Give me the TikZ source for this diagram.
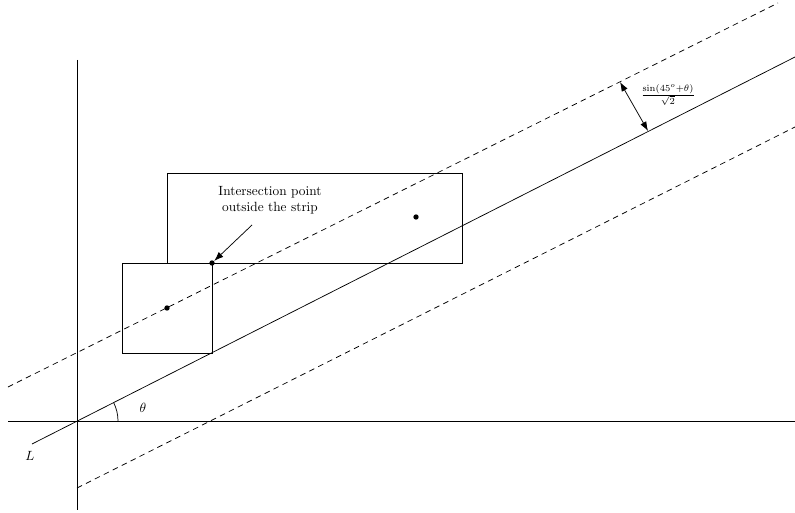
\documentclass[tikz,border=0pt]{standalone}
\usetikzlibrary{arrows.meta}
\begin{document}
\begin{tikzpicture}[x=0.75pt,y=-0.75pt,line width=0.55pt,
  dot/.style={circle,fill=black,inner sep=0pt,minimum size=4pt},
  lbl/.style={inner sep=1pt},
  strip/.style={dash pattern=on 4.2pt off 3.3pt},
  tip/.style={-{Latex[length=7pt,width=5pt]}}]
\useasboundingbox (0,0) rectangle (795,513);
% axes
\coordinate (xl) at (8,421); \coordinate (xr) at (795,421);
\coordinate (yt) at (77,60); \coordinate (yb) at (77,510);
\coordinate (O) at (77,421);
\draw (xl) -- (xr);
\draw (yt) -- (yb);
% line L
\coordinate (La) at (32,444); \coordinate (Lb) at (795,57);
\draw (La) -- (Lb);
% strip
\coordinate (Ua) at (8,387); \coordinate (Ub) at (778,3);
\coordinate (Da) at (77,488); \coordinate (Db) at (795,127);
\draw[strip] (Ua) -- (Ub);
\draw[strip] (Da) -- (Db);
% boxes
\draw (122,263) rectangle (212,353);
\draw (167,173) rectangle (462,263);
% dots
\node[dot] (c1) at (167,308) {};
\node[dot] (c2) at (416,217) {};
\node[dot] (ip) at (212,263) {};
% angle
\draw (118,421) arc[start angle=0,end angle=-26.9,radius=41];
\node[lbl] (th) at (143,408) {$\theta$};
\node[lbl] (L) at (30,456) {$L$};
% intersection label
\node[lbl,align=center] (it) at (270,200) {Intersection point\\outside the strip};
\coordinate (as) at (252,225);
\draw[tip] (as) -- (ip);
% width arrow
\coordinate (wa) at (620,82); \coordinate (wb) at (648,131);
\draw[{Latex[length=7pt,width=5pt]}-{Latex[length=7pt,width=5pt]}] (wa) -- (wb);
\node[lbl] (wl) at (668,95) {$\frac{\sin(45^o+\theta)}{\sqrt{2}}$};
\end{tikzpicture}
\end{document}
